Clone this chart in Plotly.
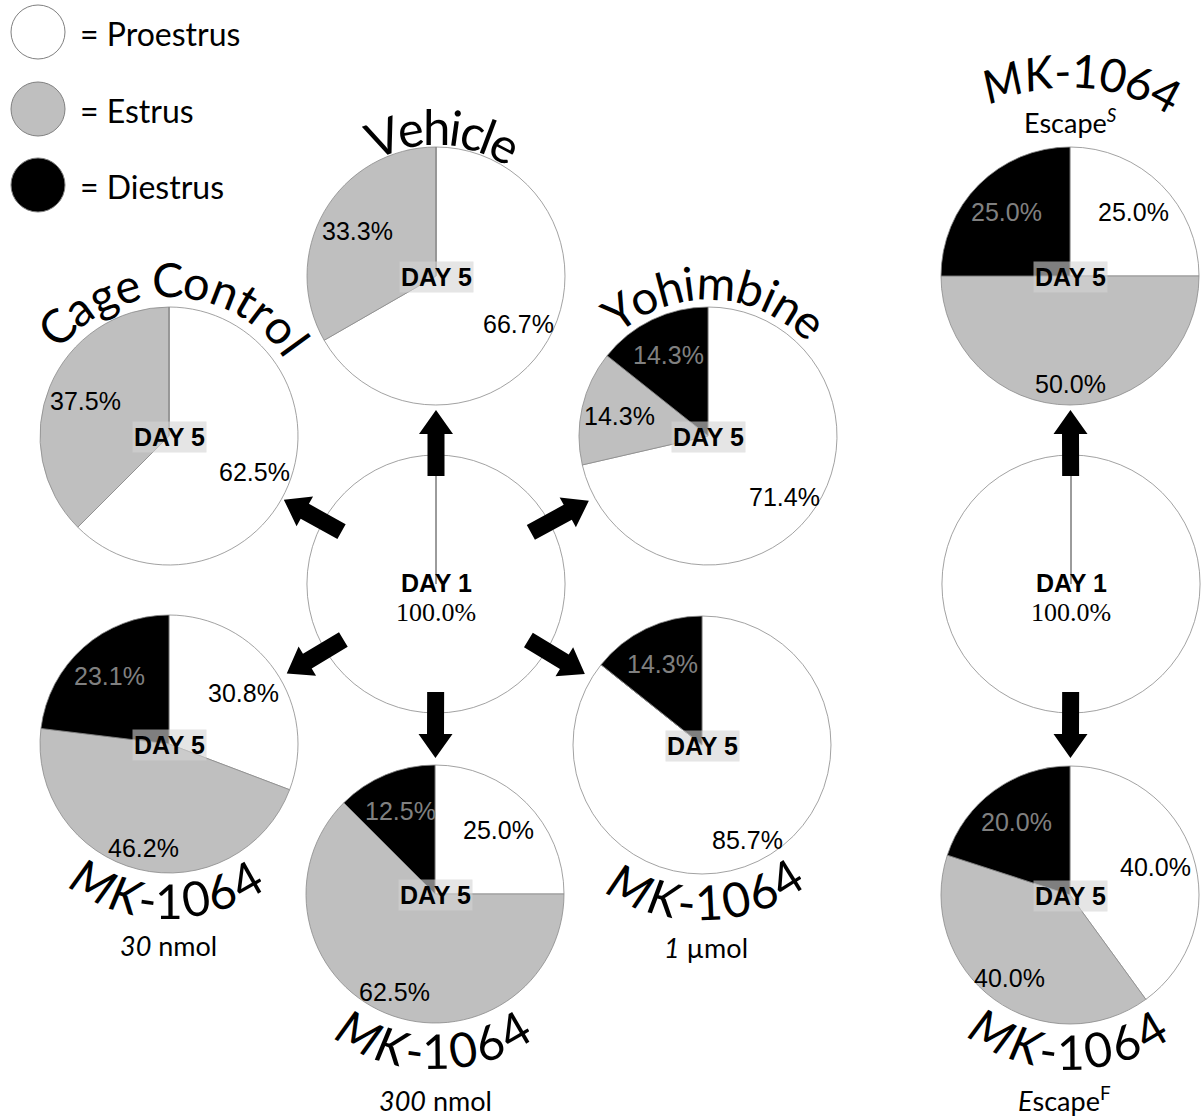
import math
import plotly.graph_objects as go

# ---------------- data ----------------
STATES = ["Proestrus", "Estrus", "Diestrus"]
GROUPS = ["Cage Control", "Vehicle", "Yohimbine", "MK-1064 30 nmol",
          "MK-1064 300 nmol", "MK-1064 1 µmol", "MK-1064 Escape S", "MK-1064 Escape F"]
PROESTRUS = [62.5, 66.7, 71.4, 30.8, 25.0, 85.7, 25.0, 40.0]
ESTRUS = [37.5, 33.3, 14.3, 46.2, 62.5, 0.0, 50.0, 40.0]
DIESTRUS = [0.0, 0.0, 14.3, 23.1, 12.5, 14.3, 25.0, 20.0]
DAY1 = [100.0, 0.0, 0.0]
DAY5_LABEL = "DAY 5"
DAY1_LABEL = "DAY 1"

# ---------------- styling / layout ----------------
W_PX, H_PX = 1201, 1120
R = 129
STATE_COLORS = ["#ffffff", "#bfbfbf", "#000000"]
LABEL_COLORS = ["#000000", "#000000", "#808080"]
OUTLINE = "#8a8a8a"
SANS = "Liberation Sans, Arial, sans-serif"
SERIF = "Liberation Serif, Times New Roman, serif"
TITLE_FONT = "Lato, Open Sans, sans-serif"

CENTERS = {
    "Cage Control": (169, 436),
    "Vehicle": (436, 276),
    "Yohimbine": (708, 436),
    "MK-1064 30 nmol": (169, 744),
    "MK-1064 300 nmol": (435, 894),
    "MK-1064 1 µmol": (702, 745),
    "MK-1064 Escape S": (1070, 276),
    "MK-1064 Escape F": (1070, 895),
}
DAY1_CENTERS = [(436, 584), (1071, 584)]
ARROWS = [(0, g) for g in ["Vehicle", "Cage Control", "Yohimbine", "MK-1064 30 nmol",
                           "MK-1064 300 nmol", "MK-1064 1 µmol"]] + \
         [(1, "MK-1064 Escape S"), (1, "MK-1064 Escape F")]

# title arcs: group -> (text, n_italic, radius, first angle, last angle, size, bottom)
TITLES = {
    "Vehicle": ("Vehicle", 0, 150, -20.6, 28.0, 49, False),
    "Cage Control": ("Cage Control", 0, 157, -46.0, 54.0, 47, False),
    "Yohimbine": ("Yohimbine", 0, 154, -35.5, 41.8, 47, False),
    "MK-1064 Escape S": ("MK-1064", 2, 206, -19.3, 27.9, 46, False),
    "MK-1064 30 nmol": ("MK-1064", 2, 156, 208.8, 150.6, 48, True),
    "MK-1064 300 nmol": ("MK-1064", 2, 157, 208.9, 149.9, 48, True),
    "MK-1064 1 µmol": ("MK-1064", 2, 157, 206.9, 147.8, 48, True),
    "MK-1064 Escape F": ("MK-1064", 2, 156, 209.7, 149.3, 48, True),
}
SUBTITLES = {
    "MK-1064 Escape S": ("Escape<sup><i>S</i></sup>", 0, -155),
    "MK-1064 30 nmol": ("<i>30</i> nmol", -1, 201),
    "MK-1064 300 nmol": ("<i>300</i> nmol", 0, 206),
    "MK-1064 1 µmol": ("<i>1</i> µmol", 4, 202),
    "MK-1064 Escape F": ("<i>E</i>scape<sup>F</sup>", -6, 204),
}
CHAR_W = {'M': .855, 'K': .520, '-': .306, '1': .507, '0': .507, '6': .507, '4': .507,
          'V': .579, 'e': .498, 'h': .525, 'i': .229, 'c': .423, 'l': .229, 'C': .533,
          'a': .479, 'g': .471, ' ': .226, 'o': .527, 'n': .525, 't': .335, 'r': .349,
          'Y': .487, 'm': .799, 'b': .525}

fig = go.Figure()
fig.add_trace(go.Scatter(x=[], y=[], showlegend=False))


def domain_of(c):
    cx, cy = c
    return dict(x=[(cx - R) / W_PX, (cx + R) / W_PX],
                y=[1 - (cy + R) / H_PX, 1 - (cy - R) / H_PX])


def polar(c, ang, dist):
    a = math.radians(ang)
    return c[0] + dist * math.sin(a), c[1] - dist * math.cos(a)


annotations = []
shapes = []


def add_pie(values, center):
    fig.add_trace(go.Pie(
        values=values, labels=STATES, sort=False, direction="clockwise", rotation=0,
        marker=dict(colors=STATE_COLORS, line=dict(color=OUTLINE, width=0.8)),
        textinfo="none", hoverinfo="label+percent", showlegend=False,
        domain=domain_of(center)))


# Day 5 pies
for i, g in enumerate(GROUPS):
    vals = [PROESTRUS[i], ESTRUS[i], DIESTRUS[i]]
    c = CENTERS[g]
    add_pie(vals, c)
    total = sum(vals)
    cum = 0.0
    for k, v in enumerate(vals):
        if v <= 0:
            continue
        a0 = cum / total * 360
        cum += v
        a1 = cum / total * 360
        mid = (a0 + a1) / 2
        cosm = math.cos(math.radians(mid))
        f = 0.70 + 0.14 * max(0.0, -cosm) ** 2
        x, y = polar(c, mid, f * R)
        annotations.append(dict(x=x, y=y, xref="x", yref="y", text=f"{v / total * 100:.1f}%",
                                showarrow=False, font=dict(family=SANS, size=25, color=LABEL_COLORS[k])))
    annotations.append(dict(x=c[0], y=c[1] + 1, xref="x", yref="y", text=f"<b>{DAY5_LABEL}</b>",
                            showarrow=False, bgcolor="rgba(212,212,212,0.6)", borderpad=1,
                            font=dict(family=SANS, size=25, color="black")))

# Day 1 pies
for c in DAY1_CENTERS:
    add_pie(DAY1, c)
    shapes.append(dict(type="line", xref="x", yref="y", x0=c[0], y0=c[1], x1=c[0], y1=c[1] - R,
                       line=dict(color="#a0a0a0", width=0.8)))
    annotations.append(dict(x=c[0], y=c[1] - 1, xref="x", yref="y", text=f"<b>{DAY1_LABEL}</b>",
                            showarrow=False, font=dict(family=SANS, size=25, color="black")))
    annotations.append(dict(x=c[0], y=c[1] + 28, xref="x", yref="y",
                            text=f"{DAY1[0] / sum(DAY1) * 100:.1f}%",
                            showarrow=False, font=dict(family=SERIF, size=26, color="black")))

# arrows
for src, g in ARROWS:
    s = DAY1_CENTERS[src]
    t = CENTERS[g]
    dx, dy = t[0] - s[0], t[1] - s[1]
    d = math.hypot(dx, dy)
    ux, uy = dx / d, dy / d
    nx, ny = -uy, ux
    S = (s[0] + ux * 108, s[1] + uy * 108)
    T = (s[0] + ux * 174, s[1] + uy * 174)
    H = (T[0] - ux * 24, T[1] - uy * 24)
    sw, hw = 8.5, 17
    pts = [(S[0] + nx * sw, S[1] + ny * sw), (H[0] + nx * sw, H[1] + ny * sw),
           (H[0] + nx * hw, H[1] + ny * hw), T,
           (H[0] - nx * hw, H[1] - ny * hw), (H[0] - nx * sw, H[1] - ny * sw),
           (S[0] - nx * sw, S[1] - ny * sw)]
    path = "M " + " L ".join(f"{px:.2f},{py:.2f}" for px, py in pts) + " Z"
    shapes.append(dict(type="path", xref="x", yref="y", path=path,
                       fillcolor="black", line=dict(width=0)))

# curved titles
for g, (text, n_it, r, a_first, a_last, size, bottom) in TITLES.items():
    c = CENTERS[g]
    widths = [CHAR_W[ch] for ch in text]
    centers = []
    acc = 0.0
    for w in widths:
        centers.append(acc + w / 2)
        acc += w
    span = centers[-1] - centers[0]
    for i, ch in enumerate(text):
        if ch == " ":
            continue
        t = (centers[i] - centers[0]) / span
        ang = a_first + t * (a_last - a_first)
        x, y = polar(c, ang, r)
        rot = ang - 180 if bottom else ang
        txt = f"<i>{ch}</i>" if i < n_it else ch
        annotations.append(dict(x=x, y=y, xref="x", yref="y", text=txt, showarrow=False,
                                textangle=rot, xanchor="center", yanchor="middle",
                                font=dict(family=TITLE_FONT, size=size, color="black")))

for g, (txt, ox, oy) in SUBTITLES.items():
    c = CENTERS[g]
    annotations.append(dict(x=c[0] + ox, y=c[1] + oy, xref="x", yref="y", text=txt,
                            showarrow=False, font=dict(family=TITLE_FONT, size=27, color="black")))

# legend
LEGEND_POS = [(38, 32), (38, 109), (38, 185)]
for k, st in enumerate(STATES):
    lx, ly = LEGEND_POS[k]
    shapes.append(dict(type="circle", xref="x", yref="y", x0=lx - 27, x1=lx + 27,
                       y0=ly - 27, y1=ly + 27, fillcolor=STATE_COLORS[k],
                       line=dict(color="#808080", width=1)))
    annotations.append(dict(x=lx + 40, y=ly + 1, xref="x", yref="y", text=f"= {st}",
                            showarrow=False, xanchor="left",
                            font=dict(family=TITLE_FONT, size=32, color="black")))

fig.update_layout(
    width=W_PX, height=H_PX, margin=dict(l=0, r=0, t=0, b=0),
    paper_bgcolor="white", plot_bgcolor="white",
    xaxis=dict(range=[0, W_PX], visible=False, fixedrange=True),
    yaxis=dict(range=[H_PX, 0], visible=False, fixedrange=True),
    annotations=annotations, shapes=shapes, showlegend=False,
)

fig.write_html("out.html", config={"displayModeBar": False},
               post_script="document.body.style.margin='0';")
